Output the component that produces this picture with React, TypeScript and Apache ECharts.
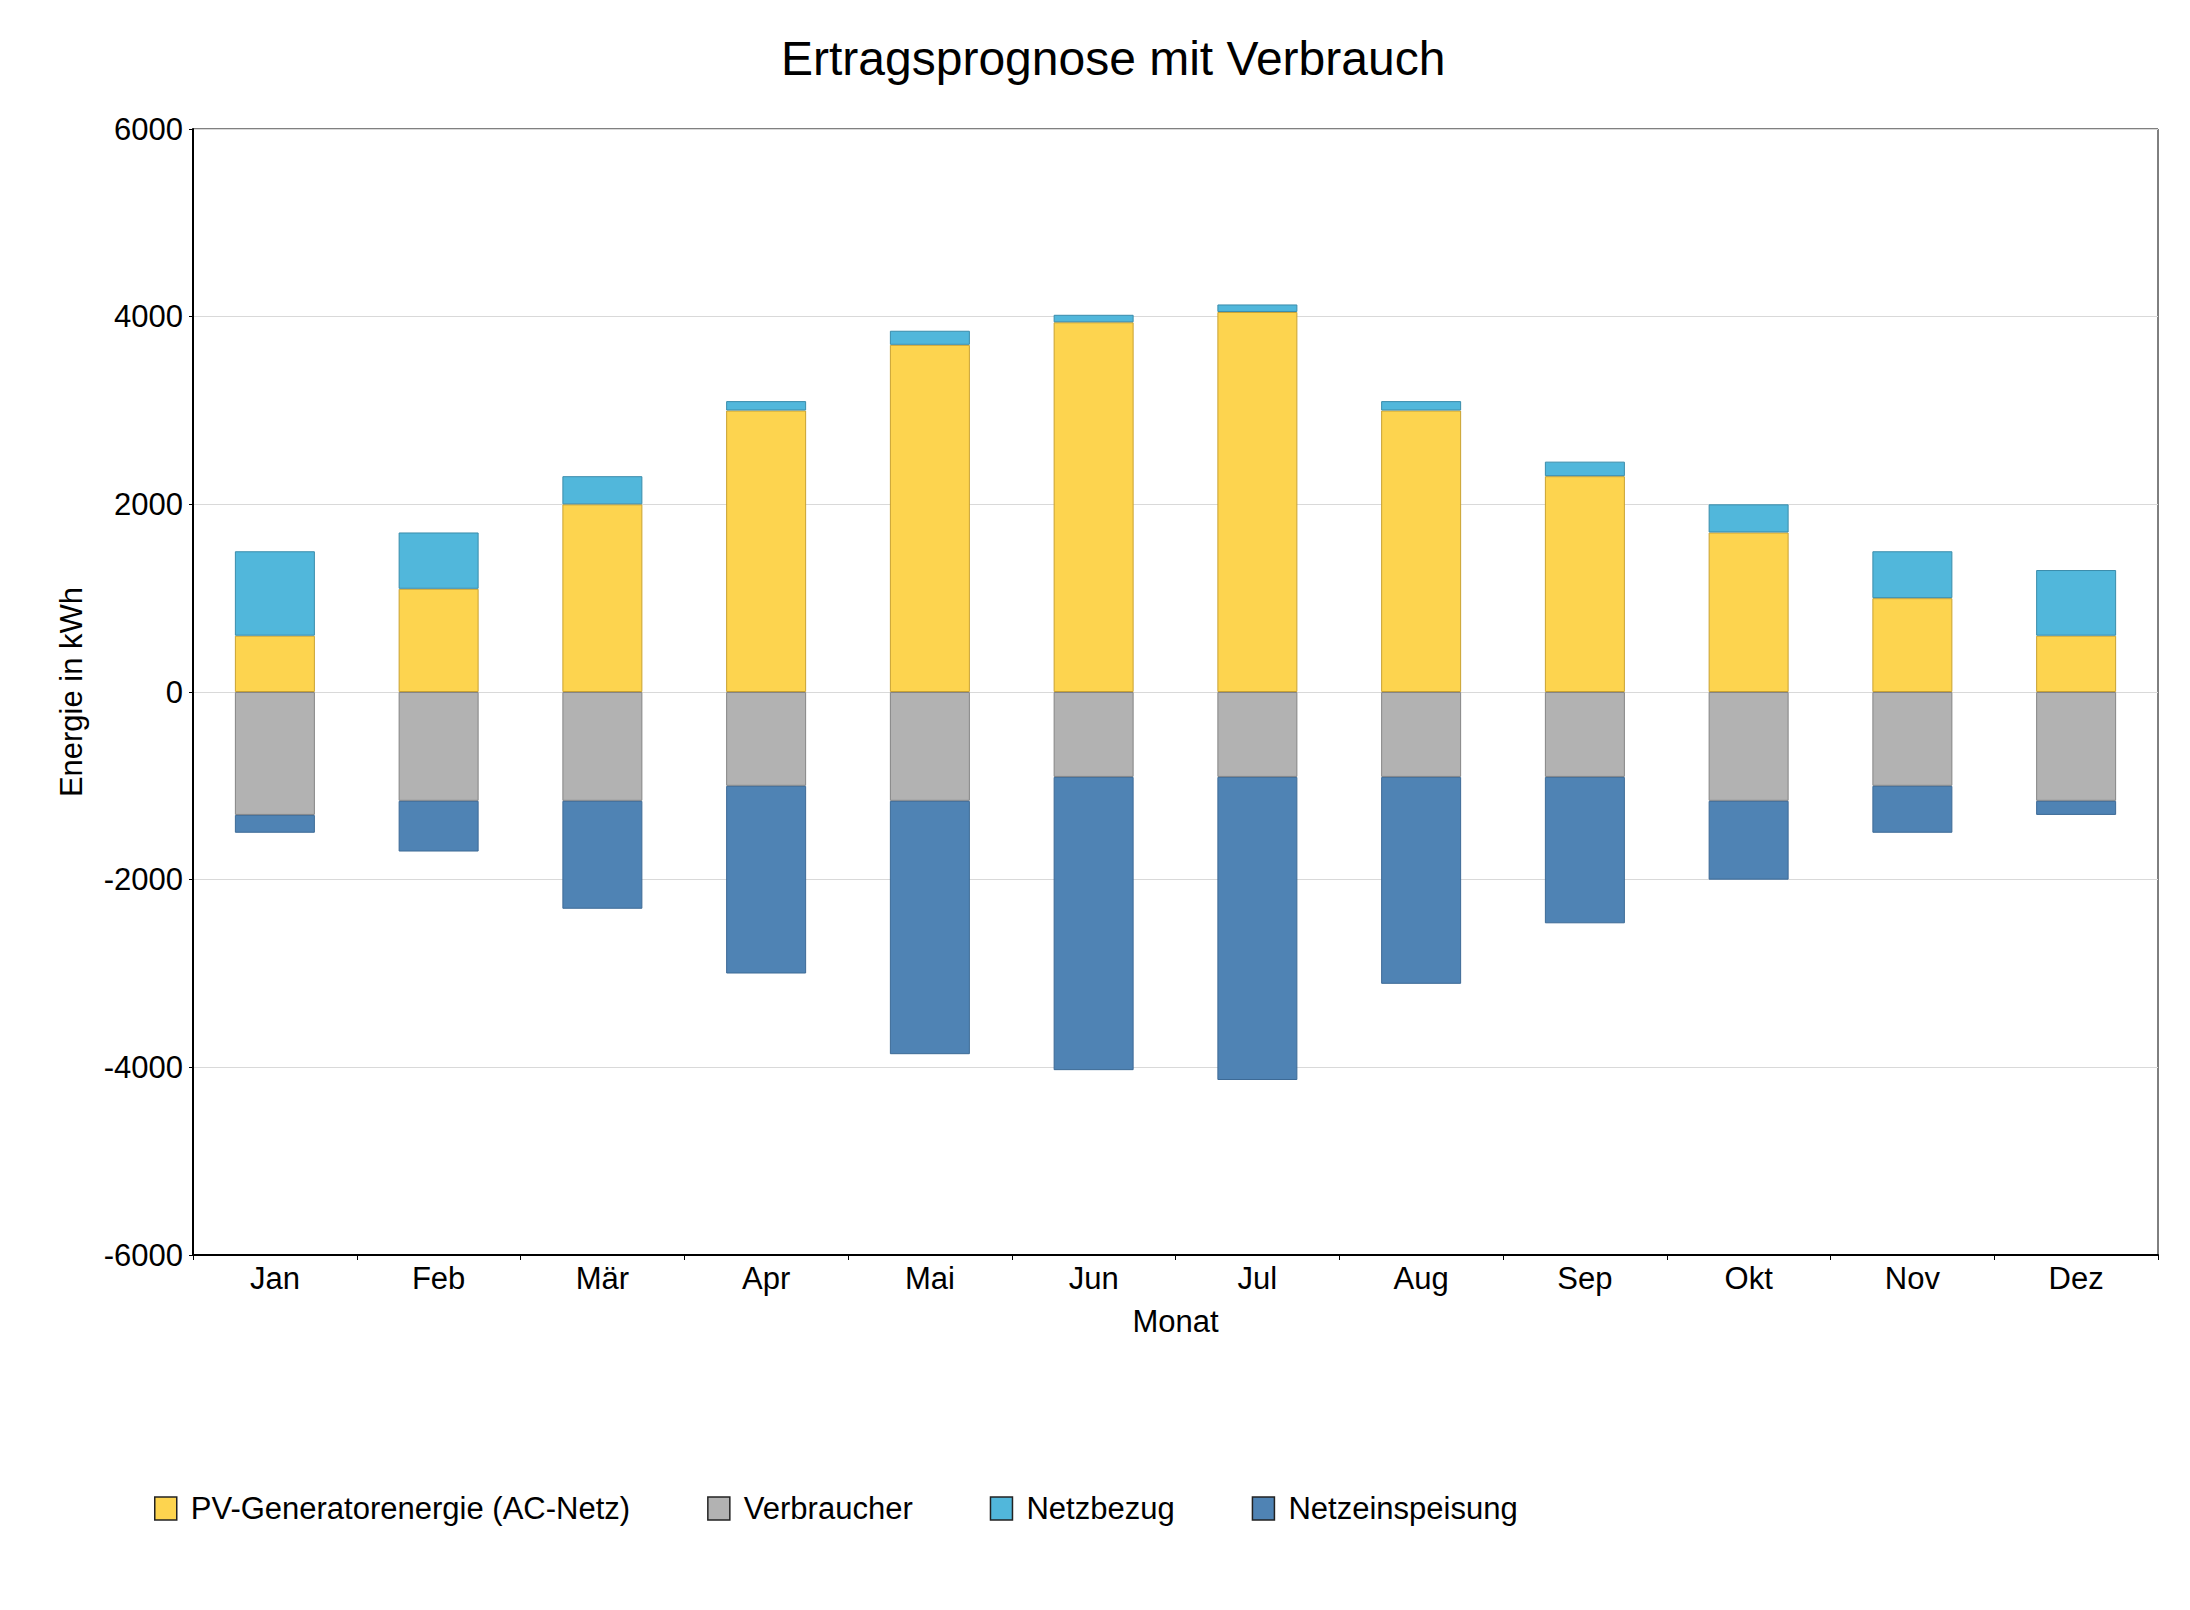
import React, { useEffect, useRef } from "react";
import * as echarts from "echarts";

const months = ["Jan", "Feb", "Mär", "Apr", "Mai", "Jun", "Jul", "Aug", "Sep", "Okt", "Nov", "Dez"];
const pvEnergy = [600, 1100, 2000, 3000, 3700, 3940, 4050, 3000, 2300, 1700, 1000, 600];
const verbraucher = [-1310, -1160, -1160, -1000, -1160, -905, -905, -905, -905, -1160, -1000, -1160];
const netzbezug = [900, 600, 300, 100, 150, 80, 80, 100, 155, 300, 500, 700];
const netzeinspeisung = [-190, -540, -1150, -2000, -2700, -3125, -3230, -2205, -1560, -840, -500, -150];

const FONT = "'Liberation Sans', Arial, sans-serif";

export default function App() {
  const ref = useRef<HTMLDivElement>(null);
  useEffect(() => {
    if (!ref.current) return;
    const chart = echarts.init(ref.current, undefined, { renderer: "svg" });
    const barBase = (color: string, border: string) => ({
      color,
      borderColor: border,
      borderWidth: 1,
    });
    chart.setOption({
      animation: false,
      backgroundColor: "#ffffff",
      textStyle: { fontFamily: FONT },
      title: {
        text: "Ertragsprognose mit Verbrauch",
        left: 776,
        top: 29,
        textStyle: { fontFamily: FONT, fontSize: 48, fontWeight: "normal", color: "#000" },
      },
      grid: {
        left: 193,
        right: 32,
        top: 129,
        bottom: 355,
        show: true,
        borderColor: "#000",
        borderWidth: 1,
        containLabel: false,
      },
      legend: {
        left: 149,
        top: 1488,
        itemWidth: 22,
        itemHeight: 23,
        itemGap: 77,
        icon: "rect",
        itemStyle: { borderColor: "#222", borderWidth: 1.5, opacity: 1 },
        textStyle: { fontFamily: FONT, fontSize: 31, color: "#000", padding: [0, 0, 0, 9] },
        data: ["PV-Generatorenergie (AC-Netz)", "Verbraucher", "Netzbezug", "Netzeinspeisung"],
      },
      xAxis: {
        type: "category",
        data: months,
        name: "Monat",
        nameLocation: "middle",
        nameGap: 51,
        nameTextStyle: { fontFamily: FONT, fontSize: 31, color: "#000" },
        axisLine: { show: true, onZero: false, lineStyle: { color: "#000", width: 2 } },
        axisTick: { show: true, alignWithLabel: false, length: 5, lineStyle: { color: "#000", width: 1 } },
        axisLabel: { fontFamily: FONT, fontSize: 31, color: "#000", margin: 8 },
        splitLine: { show: false },
      },
      yAxis: {
        type: "value",
        min: -6000,
        max: 6000,
        interval: 2000,
        name: "Energie in kWh",
        nameLocation: "middle",
        nameGap: 106,
        nameTextStyle: { fontFamily: FONT, fontSize: 31, color: "#000" },
        axisLine: { show: true, lineStyle: { color: "#000", width: 2 } },
        axisTick: { show: true, length: 4, lineStyle: { color: "#000", width: 1 } },
        axisLabel: {
          fontFamily: FONT,
          fontSize: 31,
          color: "#000",
          margin: 10,
          formatter: (v: number) => String(v),
        },
        splitLine: { show: true, lineStyle: { color: "#d9d9d9", width: 1 } },
      },
      series: [
        {
          name: "PV-Generatorenergie (AC-Netz)",
          type: "bar",
          stack: "total",
          barWidth: 80,
          data: pvEnergy,
          itemStyle: barBase("#fdd44f", "#c9a232"),
        },
        {
          name: "Verbraucher",
          type: "bar",
          stack: "total",
          barWidth: 80,
          data: verbraucher,
          itemStyle: barBase("#b2b2b2", "#858585"),
        },
        {
          name: "Netzbezug",
          type: "bar",
          stack: "total",
          barWidth: 80,
          data: netzbezug,
          itemStyle: barBase("#51b7db", "#3a8cab"),
        },
        {
          name: "Netzeinspeisung",
          type: "bar",
          stack: "total",
          barWidth: 80,
          data: netzeinspeisung,
          itemStyle: barBase("#4f83b4", "#3d6a96"),
        },
      ],
    });
    return () => chart.dispose();
  }, []);
  return (
    <div
      ref={ref}
      style={{ position: "fixed", left: 0, top: 0, width: 2190, height: 1610, background: "#fff" }}
    />
  );
}
